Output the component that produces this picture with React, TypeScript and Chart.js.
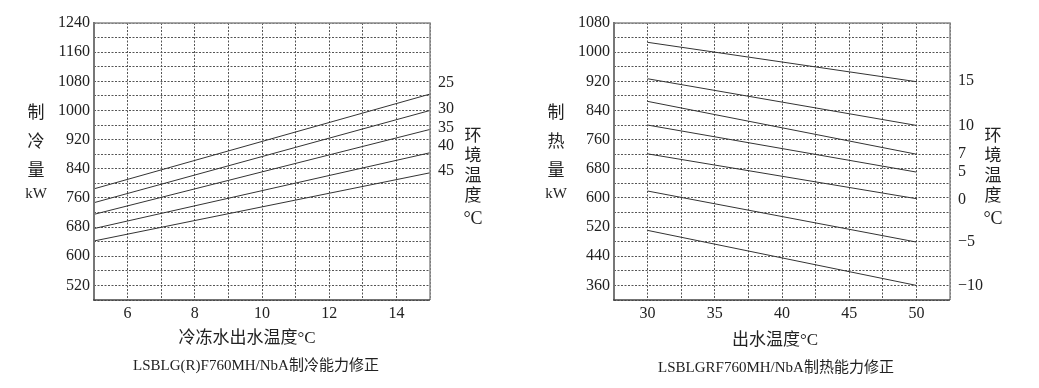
import React, { useEffect, useRef } from "react";
import { Chart, registerables } from "chart.js";

Chart.register(...registerables);

// ---------- Cooling chart data ----------
const coolingWaterTemp = [5, 15];
const cooling25 = [785, 1045];
const cooling30 = [747, 1000];
const cooling35 = [715, 948];
const cooling40 = [676, 884];
const cooling45 = [642, 829];
const coolingAmbient = ["25", "30", "35", "40", "45"];
const coolingAmbientLabelKW = [1077, 1004, 953, 902, 835];
const coolingYTicks = { min: 480, max: 1240, step: 40, labelFrom: 520, labelStep: 80 };
const coolingXTicks = { min: 5, max: 15, step: 1, labelStep: 2 };

// ---------- Heating chart data ----------
const heatingWaterTemp = [30, 50];
const heating15 = [1027, 919];
const heating10 = [927, 799];
const heating7 = [865, 720];
const heating5 = [800, 671];
const heating0 = [721, 598];
const heatingM5 = [619, 479];
const heatingM10 = [511, 360];
const heatingAmbient = ["15", "10", "7", "5", "0", "\u22125", "\u221210"];
const heatingAmbientLabelKW = [921, 798, 721, 673, 596, 479, 360];
const heatingYTicks = { min: 320, max: 1080, step: 40, labelFrom: 360, labelStep: 80 };
const heatingXTicks = { min: 27.5, max: 52.5, step: 2.5, labelStep: 5 };

const SERIF = "'Liberation Serif', 'Noto Sans CJK SC', serif";
const TEXT = "#222";

type Decor = {
  leftLabel: string[];
  xTitle: string;
  xTitleX: number;
  xTitleY: number;
  bottomTitle: string;
  bottomTitleX: number;
  bottomTitleY: number;
  ambient: string[];
  ambientKW: number[];
};

function makeConfig(
  xs: number[],
  series: number[][],
  yT: typeof coolingYTicks,
  xT: typeof coolingXTicks,
  decor: Decor
): any {
  const datasets = series.map((s) => ({
    data: s.map((v, i) => ({ x: xs[i], y: v })),
    borderColor: "#333",
    borderWidth: 1,
    pointRadius: 0,
    fill: false,
    tension: 0,
  }));

  const decorPlugin = {
    id: "decor",
    afterDraw(chart: any) {
      const { ctx, chartArea } = chart;
      const { left, right, top, bottom } = chartArea;
      const yScale = chart.scales.y;
      ctx.save();
      // frame
      ctx.setLineDash([]);
      ctx.strokeStyle = "#8a8a8a";
      ctx.lineWidth = 1.5;
      ctx.beginPath();
      ctx.moveTo(left, top);
      ctx.lineTo(right, top);
      ctx.lineTo(right, bottom);
      ctx.stroke();
      ctx.strokeStyle = "#777";
      ctx.lineWidth = 2;
      ctx.beginPath();
      ctx.moveTo(left, top - 1);
      ctx.lineTo(left, bottom);
      ctx.stroke();
      ctx.strokeStyle = "#444";
      ctx.lineWidth = 1.5;
      ctx.beginPath();
      ctx.moveTo(left - 1, bottom);
      ctx.lineTo(right, bottom);
      ctx.stroke();

      ctx.fillStyle = TEXT;
      // ambient temperature labels
      ctx.font = `16px ${SERIF}`;
      ctx.textAlign = "left";
      ctx.textBaseline = "middle";
      decor.ambient.forEach((t, i) => {
        ctx.fillText(t, right + 8, yScale.getPixelForValue(decor.ambientKW[i]));
      });

      // right vertical title 环境温度°C
      ctx.textAlign = "center";
      ctx.font = `17px ${SERIF}`;
      const rightChars = ["环", "境", "温", "度", "°C"];
      rightChars.forEach((c, i) => {
        const yy = top + 114 + i * 20 + (i === 4 ? 2 : 0);
        ctx.font = i === 4 ? `18px ${SERIF}` : `17px ${SERIF}`;
        ctx.fillText(c, right + 43, yy);
      });

      // left vertical title
      decor.leftLabel.forEach((c, i) => {
        const yy = top + 91 + i * 29 - (i === 3 ? 7 : 0);
        ctx.font = i === 3 ? `15px ${SERIF}` : `17px ${SERIF}`;
        ctx.fillText(c, 36, yy);
      });

      // x-axis title
      ctx.font = `17px ${SERIF}`;
      ctx.fillText(decor.xTitle, decor.xTitleX, decor.xTitleY);

      // bottom title
      ctx.font = `15px ${SERIF}`;
      ctx.fillText(decor.bottomTitle, decor.bottomTitleX, decor.bottomTitleY);
      ctx.restore();
    },
  };

  return {
    type: "line",
    data: { datasets },
    options: {
      animation: false,
      responsive: false,
      maintainAspectRatio: false,
      layout: { padding: { top: 23, right: 89, left: 0, bottom: 0 } },
      plugins: { legend: { display: false }, tooltip: { enabled: false }, title: { display: false } },
      scales: {
        x: {
          type: "linear",
          min: xT.min,
          max: xT.max,
          ticks: {
            stepSize: xT.step,
            autoSkip: false,
            maxRotation: 0,
            padding: 4,
            color: TEXT,
            font: { family: SERIF, size: 16 },
            callback: (v: number) => (Math.abs(v % xT.labelStep) < 1e-6 ? String(v) : ""),
          },
          grid: { color: "#555", lineWidth: 1, drawTicks: false },
          border: { display: false, dash: [2, 1.5] },
          afterFit: (s: any) => {
            s.height = 88;
          },
        },
        y: {
          type: "linear",
          min: yT.min,
          max: yT.max,
          ticks: {
            stepSize: yT.step,
            autoSkip: false,
            padding: 4,
            color: TEXT,
            font: { family: SERIF, size: 16 },
            callback: (v: number) =>
              v >= yT.labelFrom && (v - yT.labelFrom) % yT.labelStep === 0 ? String(v) : "",
          },
          grid: { color: "#555", lineWidth: 1, drawTicks: false },
          border: { display: false, dash: [2, 1.5] },
          afterFit: (s: any) => {
            s.width = 94;
          },
        },
      },
    },
    plugins: [decorPlugin],
  };
}

function ChartBox({ config, left }: { config: any; left: number }) {
  const ref = useRef<HTMLCanvasElement | null>(null);
  useEffect(() => {
    if (!ref.current) return;
    const chart = new Chart(ref.current, config);
    return () => chart.destroy();
  }, [config]);
  return (
    <div style={{ position: "absolute", left, top: 0, width: 519, height: 388 }}>
      <canvas ref={ref} width={519} height={388} style={{ display: "block" }} />
    </div>
  );
}

const coolingConfig = makeConfig(
  coolingWaterTemp,
  [cooling25, cooling30, cooling35, cooling40, cooling45],
  coolingYTicks,
  coolingXTicks,
  {
    leftLabel: ["制", "冷", "量", "kW"],
    xTitle: "冷冻水出水温度°C",
    xTitleX: 247,
    xTitleY: 339,
    bottomTitle: "LSBLG(R)F760MH/NbA制冷能力修正",
    bottomTitleX: 256,
    bottomTitleY: 366,
    ambient: coolingAmbient,
    ambientKW: coolingAmbientLabelKW,
  }
);

const heatingConfig = makeConfig(
  heatingWaterTemp,
  [heating15, heating10, heating7, heating5, heating0, heatingM5, heatingM10],
  heatingYTicks,
  heatingXTicks,
  {
    leftLabel: ["制", "热", "量", "kW"],
    xTitle: "出水温度°C",
    xTitleX: 255,
    xTitleY: 341,
    bottomTitle: "LSBLGRF760MH/NbA制热能力修正",
    bottomTitleX: 256,
    bottomTitleY: 368,
    ambient: heatingAmbient,
    ambientKW: heatingAmbientLabelKW,
  }
);

export default function App() {
  return (
    <div style={{ position: "absolute", left: 0, top: 0, width: 1039, height: 388, background: "#fff" }}>
      <ChartBox config={coolingConfig} left={0} />
      <ChartBox config={heatingConfig} left={520} />
    </div>
  );
}
